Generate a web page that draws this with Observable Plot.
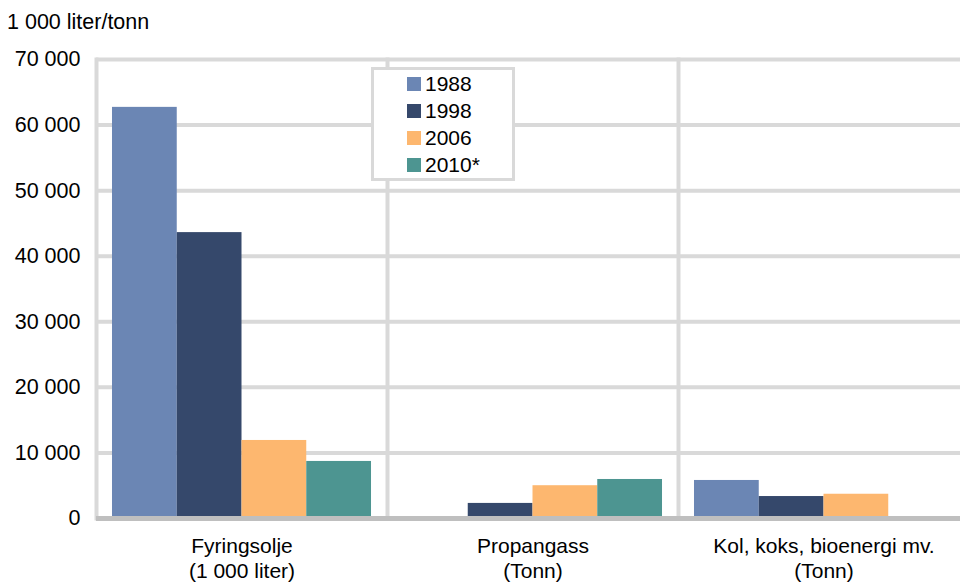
<!DOCTYPE html>
<html><head><meta charset="utf-8">
<script src="https://cdn.jsdelivr.net/npm/d3@7"></script>
<script src="https://cdn.jsdelivr.net/npm/@observablehq/plot@0.6"></script>
<style>
html,body{margin:0;padding:0;overflow:hidden;background:#fff;}
#wrap{position:relative;width:960px;height:583px;overflow:hidden;font-family:"Liberation Sans",Arial,sans-serif;color:#000;}
#chart{width:969px;}
#title{position:absolute;left:7px;top:10px;font-size:21.5px;line-height:1.15;white-space:nowrap;}
#legend{position:absolute;left:371px;top:67px;width:144px;height:114px;border:3px solid #d9d9d9;background:#fff;box-sizing:border-box;padding-left:33px;}
.row{display:flex;align-items:center;height:27px;font-size:21px;}
.sw{width:14px;height:14px;margin-right:4px;flex:none;}
svg{display:block;max-width:none !important;}
</style></head>
<body>
<div id="wrap">
  <div id="chart"></div>
  <div id="title"></div>
  <div id="legend"></div>
</div>
<script>
const unitLabel = "1 000 liter/tonn";
const categories = ["Fyringsolje\n(1 000 liter)", "Propangass\n(Tonn)", "Kol, koks, bioenergi mv.\n(Tonn)"];
const years = ["1988", "1998", "2006", "2010*"];
const v1988 = [62700, null, 5800];
const v1998 = [43600, 2300, 3350];
const v2006 = [11900, 5000, 3700];
const v2010 = [8700, 5950, null];
const colors = ["#6b86b4", "#35486b", "#fdb76f", "#4d9591"];
const yTicks = [0, 10000, 20000, 30000, 40000, 50000, 60000, 70000];

const series = [v1988, v1998, v2006, v2010];
const rows = [];
categories.forEach((c, i) => years.forEach((y, j) => {
  const v = series[j][i];
  if (v != null) rows.push({category: c, year: y, value: v});
}));
const fmt = d => d3.format(",")(d).replace(/,/g, " ");

const chart = Plot.plot({
  width: 969, height: 583,
  marginLeft: 96, marginRight: 0, marginTop: 59, marginBottom: 65,
  style: {fontFamily: "Liberation Sans, Arial, sans-serif", fontSize: "21.5px", color: "#000", background: "transparent", overflow: "visible", maxWidth: "none"},
  fx: {domain: categories, padding: 0, axis: null, round: false},
  x: {domain: years, paddingInner: 0, paddingOuter: 0.247, axis: null, round: false},
  y: {domain: [0, 70000], ticks: yTicks, tickFormat: fmt, tickSize: 0, tickPadding: 16, label: null},
  color: {domain: years, range: colors},
  marks: [
    Plot.ruleY(yTicks.filter(d => d > 0), {stroke: "#d9d9d9", strokeWidth: 4}),
    Plot.frame({anchor: "left", stroke: "#d9d9d9", strokeWidth: 4}),
    Plot.barY(rows, {fx: "category", x: "year", y: "value", fill: "year"}),
    Plot.ruleY([0], {stroke: "#bfbfbf", strokeWidth: 5}),
    Plot.text(categories, {fx: d => d, text: d => d, frameAnchor: "bottom", lineAnchor: "top", dy: 16.5, lineHeight: 1.19, fontSize: 21})
  ]
});
document.getElementById("chart").appendChild(chart);
document.getElementById("title").textContent = unitLabel;
const leg = document.getElementById("legend");
years.forEach((y, i) => {
  const r = document.createElement("div"); r.className = "row";
  const s = document.createElement("div"); s.className = "sw"; s.style.background = colors[i];
  const t = document.createElement("span"); t.textContent = y;
  r.appendChild(s); r.appendChild(t); leg.appendChild(r);
});
</script>
</body></html>
